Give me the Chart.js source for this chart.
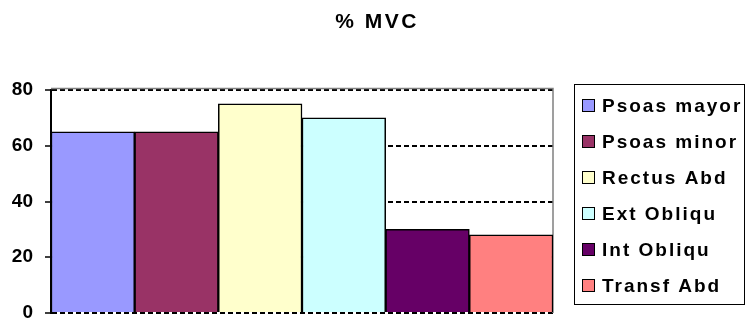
<!DOCTYPE html>
<html>
<head>
<meta charset="utf-8">
<script src="https://cdn.jsdelivr.net/npm/chart.js@4/dist/chart.umd.min.js"></script>
<style>
  html, body { margin: 0; padding: 0; background: #fff; }
  #wrap { width: 746px; height: 321px; position: relative; }
</style>
</head>
<body>
<div id="wrap"><canvas id="c" width="746" height="321"></canvas></div>
<script>
// Muscle activation, % of maximal voluntary contraction
const chartTitle = '% MVC';
const muscles = ['Psoas mayor', 'Psoas minor', 'Rectus Abd', 'Ext Obliqu', 'Int Obliqu', 'Transf Abd'];
const mvcValues = [65, 65, 75, 70, 30, 28];
const barColors = ['#9999FF', '#993366', '#FFFFCC', '#CCFFFF', '#660066', '#FF8080'];
const yTicks = [0, 20, 40, 60, 80];

const FONT = 'Arial, "Liberation Sans", sans-serif';

// Title and boxed legend drawn on the canvas
const decorations = {
  id: 'decorations',
  beforeDatasetsDraw(chart) {
    const { ctx, chartArea: a } = chart;
    ctx.save();
    // plot frame (top and right edges)
    ctx.strokeStyle = '#808080';
    ctx.lineWidth = 1.5;
    ctx.beginPath();
    ctx.moveTo(a.left, a.top - 1.5);
    ctx.lineTo(a.right, a.top - 1.5);
    ctx.lineTo(a.right, a.bottom);
    ctx.stroke();
    ctx.restore();
  },
  afterDraw(chart) {
    const { ctx } = chart;
    ctx.save();
    // title
    ctx.fillStyle = '#000';
    ctx.font = 'bold 21px ' + FONT;
    ctx.letterSpacing = '2.5px';
    ctx.textAlign = 'center';
    ctx.textBaseline = 'middle';
    ctx.fillText(chartTitle, 377, 22);

    // legend box
    const bx = 574.5, by = 84.5, bw = 170, bh = 220;
    ctx.strokeStyle = '#000';
    ctx.lineWidth = 1;
    ctx.strokeRect(bx, by, bw, bh);

    ctx.font = 'bold 19px ' + FONT;
    ctx.letterSpacing = '2px';
    ctx.textAlign = 'left';
    chart.data.datasets.forEach((ds, i) => {
      const cy = 105.5 + i * 36;
      ctx.fillStyle = ds.backgroundColor;
      ctx.fillRect(582.5, cy - 6, 12, 12);
      ctx.strokeRect(582.5, cy - 6, 12, 12);
      ctx.fillStyle = '#000';
      ctx.fillText(ds.label, 602, cy + 1);
    });
    ctx.restore();
  }
};

new Chart(document.getElementById('c'), {
  type: 'bar',
  data: {
    labels: [chartTitle],
    datasets: muscles.map((m, i) => ({
      label: m,
      data: [mvcValues[i]],
      backgroundColor: barColors[i],
      borderColor: '#000',
      borderWidth: 1.5,
      categoryPercentage: 1,
      barPercentage: 1
    }))
  },
  options: {
    responsive: false,
    animation: false,
    events: [],
    layout: { padding: { top: 90, right: 193, bottom: 8, left: 0 } },
    plugins: {
      legend: { display: false },
      title: { display: false },
      tooltip: { enabled: false }
    },
    scales: {
      x: { display: false, grid: { display: false } },
      y: {
        min: 0,
        max: 80,
        afterBuildTicks(scale) { scale.ticks = yTicks.map(v => ({ value: v })); },
        afterFit(scale) {
          scale.width = 51;
          scale.paddingTop = 0;
          scale.paddingBottom = 0;
        },
        ticks: {
          color: '#000',
          padding: 12,
          font: { family: FONT, size: 19, weight: 'bold' }
        },
        grid: {
          color: '#000',
          lineWidth: 2,
          drawTicks: true,
          tickLength: 6,
          tickColor: '#000',
          tickWidth: 1.5,
          tickBorderDash: []
        },
        border: { display: true, color: '#000', width: 2, dash: [5, 3] }
      }
    }
  },
  plugins: [decorations]
});
</script>
</body>
</html>
